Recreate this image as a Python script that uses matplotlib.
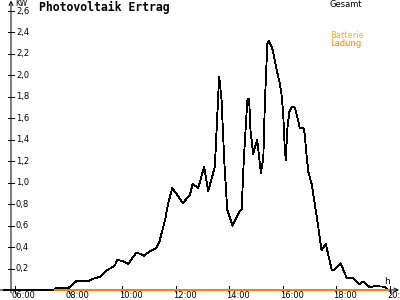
import matplotlib
matplotlib.use("Agg")
import matplotlib.pyplot as plt

plt.rcParams['font.family'] = ['DejaVu Sans']

# Gesamt (kW) over the day
time_h = [5.6, 7.48, 7.5, 7.97, 8.0, 8.30, 8.74, 8.86, 9.17, 9.42, 9.73, 9.82,
          10.04, 10.23, 10.39, 10.54, 10.81, 11.10, 11.26, 11.39, 11.60, 11.72,
          11.87, 12.13, 12.26, 12.53, 12.63, 12.84, 13.06, 13.21, 13.46, 13.62,
          13.71, 13.81, 13.92, 14.12, 14.27, 14.40, 14.46, 14.54, 14.65, 14.68,
          14.74, 14.79, 14.89, 15.04, 15.18, 15.27, 15.33, 15.42, 15.48, 15.62,
          15.77, 15.87, 15.95, 16.01, 16.07, 16.11, 16.16, 16.24, 16.33, 16.45,
          16.57, 16.63, 16.76, 16.80, 16.89, 16.95, 17.07, 17.13, 17.32, 17.44,
          17.60, 17.82, 17.94, 18.15, 18.38, 18.62, 18.85, 19.0, 19.25, 19.43,
          19.8, 19.93]
gesamt_kw = [0.0, 0.0, 0.015, 0.015, 0.02, 0.084, 0.084, 0.10, 0.124, 0.18, 0.23, 0.28,
             0.27, 0.24, 0.30, 0.35, 0.32, 0.37, 0.39, 0.45, 0.65, 0.81,
             0.95, 0.86, 0.81, 0.885, 0.99, 0.95, 1.15, 0.92, 1.15, 1.99,
             1.77, 1.21, 0.75, 0.60, 0.68, 0.74, 0.75, 1.21, 1.68, 1.78,
             1.78, 1.49, 1.27, 1.40, 1.09, 1.24, 1.77, 2.30, 2.32, 2.24,
             2.05, 1.94, 1.82, 1.65, 1.32, 1.21, 1.49, 1.66, 1.71, 1.70,
             1.58, 1.51, 1.51, 1.48, 1.24, 1.10, 0.99, 0.90, 0.59, 0.37,
             0.43, 0.19, 0.19, 0.25, 0.115, 0.115, 0.056, 0.077, 0.025, 0.037,
             0.03, 0.0]

# Batterie Ladung (kW)
batt_h = [7.5, 19.93]
batt_kw = [0.0, 0.0]

xticks = [6, 8, 10, 12, 14, 16, 18, 20]
xlabels = ["06:00", "08:00", "10:00", "12:00", "14:00", "16:00", "18:00", "20:00"]
yticks = [0.2, 0.4, 0.6, 0.8, 1.0, 1.2, 1.4, 1.6, 1.8, 2.0, 2.2, 2.4, 2.6]
ylabels = ["0,2", "0,4", "0,6", "0,8", "1,0", "1,2", "1,4", "1,6", "1,8",
           "2,0", "2,2", "2,4", "2,6"]

# pixel -> data helpers (axes fill the whole figure)
PX_H = 26.79
PX_KW = 107.3
def hx(px):
    return 6 + (px - 15) / PX_H
def ky(py):
    return (290 - py) / PX_KW

fig = plt.figure(figsize=(4, 3), dpi=100)
ax = fig.add_axes([0, 0, 1, 1])
ax.set_xlim(hx(0), hx(400))
ax.set_ylim(ky(300), ky(0))
ax.axis('off')

lw = 0.6
# axes with arrows
ax.annotate('', xy=(hx(399), 0), xytext=(hx(0), 0),
            arrowprops=dict(arrowstyle='->', lw=0.72, color='black', mutation_scale=7,
                            shrinkA=0, shrinkB=0))
ax.annotate('', xy=(hx(11), ky(0.5)), xytext=(hx(11), ky(293)),
            arrowprops=dict(arrowstyle='->', lw=0.72, color='black', mutation_scale=7,
                            shrinkA=0, shrinkB=0))

for v, lab in zip(yticks, ylabels):
    ax.plot([hx(8), hx(14)], [v, v], color='black', lw=0.72, antialiased=False)
    ax.text(hx(16), v, lab, fontsize=6, ha='left', va='center')

for t, lab in zip(xticks, xlabels):
    ax.plot([t, t], [ky(286), ky(293)], color='black', lw=0.72, antialiased=False)
    ax.text(t - 3 / PX_H, ky(299.8), lab, fontsize=6, ha='left', va='bottom')

ax.text(hx(15), ky(3.5), "KW", fontsize=5.5, ha='left', va='center')
ax.text(hx(384), ky(282), "h", fontsize=6.5, ha='left', va='center')

ax.plot(time_h, gesamt_kw, color='black', lw=lw, antialiased=False, zorder=4)
ax.plot(batt_h, batt_kw, color='#ff8000', lw=1.44, antialiased=False, zorder=5)

ax.text(hx(39), ky(7.5), "Photovoltaik Ertrag", fontsize=8.3, fontweight='bold',
        family='DejaVu Sans Mono', ha='left', va='center')
ax.text(hx(330), ky(4.5), "Gesamt", fontsize=6, ha='left', va='center')
ax.text(hx(330), ky(36), "Batterie", fontsize=6, ha='left', va='center', color='#ffb000')
ax.text(hx(330), ky(44), "Ladung", fontsize=6, ha='left', va='center', color='#ff8000')

fig.savefig("out.png", dpi=100)
